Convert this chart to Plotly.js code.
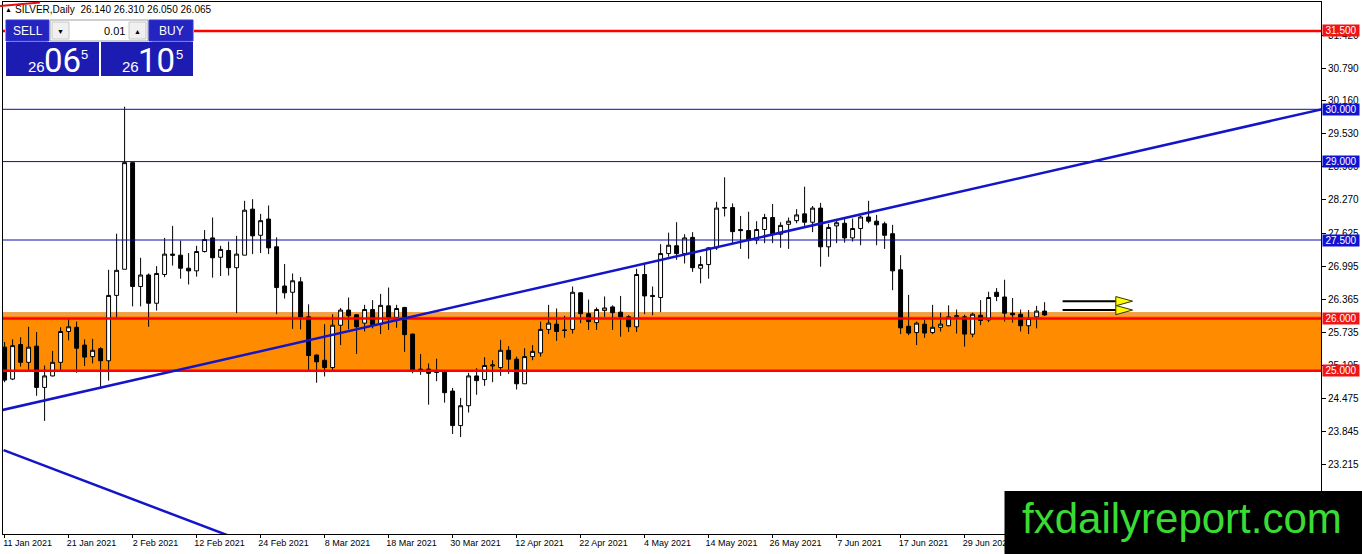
<!DOCTYPE html>
<html>
<head>
<meta charset="utf-8">
<script src="https://cdn.plot.ly/plotly-3.0.1.min.js"></script>
<style>
html,body{margin:0;padding:0;background:#fff;}
#chart{width:1362px;height:554px;}
</style>
</head>
<body>
<div id="chart"></div>
<script>
// ---- data (SILVER, Daily) ----
const openP = [25.45,24.84,25.50,25.16,25.47,24.68,24.90,25.16,25.75,25.83,25.49,25.27,25.42,25.19,26.44,26.94,28.98,26.61,26.83,26.29,
26.84,27.23,27.21,26.96,26.91,27.28,27.54,27.17,27.30,26.97,27.21,28.09,27.59,27.90,27.37,26.62,26.50,26.70,26.03,25.30,
25.20,25.06,25.87,26.16,26.07,25.91,26.17,25.89,26.24,26.02,26.21,25.70,25.03,25.03,24.98,25.00,24.61,23.95,24.33,24.90,
24.83,25.09,25.06,25.39,25.22,24.75,25.27,25.34,25.79,25.89,25.78,25.79,26.49,26.09,25.92,26.15,26.22,26.12,26.03,25.84,
26.84,26.44,26.40,27.24,27.39,27.24,27.55,26.96,27.03,27.35,28.11,28.12,27.70,27.68,27.50,27.70,27.93,27.61,27.80,27.87,
28.00,27.84,28.11,27.37,27.77,27.82,27.54,27.72,27.94,27.86,27.81,27.62,26.93,25.85,25.73,25.89,25.73,25.83,25.86,26.03,
26.03,25.70,26.06,25.97,26.50,26.41,26.10,26.08,25.86,26.03,26.14];
const highP = [25.55,25.60,25.64,25.84,25.74,25.10,25.38,25.83,26.00,25.94,25.60,25.61,25.45,26.93,27.62,30.05,28.98,27.16,26.86,27.00,
27.54,27.77,27.49,27.25,27.39,27.69,27.93,27.39,27.47,27.58,28.25,28.28,28.00,28.16,27.55,27.04,26.86,26.79,26.27,25.31,
25.89,26.08,26.20,26.40,26.08,26.26,26.35,26.47,26.59,26.26,26.22,25.71,25.32,25.14,25.23,25.00,24.67,24.48,24.96,25.05,
25.26,25.20,25.59,25.47,25.27,25.43,25.49,25.94,26.26,26.19,26.05,26.61,26.50,26.36,26.21,26.42,26.25,26.43,26.06,26.95,
27.05,26.61,27.42,27.64,27.84,27.61,27.65,27.19,27.36,28.23,28.70,28.20,27.96,28.04,27.86,28.00,28.19,27.84,27.93,28.09,
28.52,28.15,28.21,27.81,27.90,27.90,27.91,27.96,28.25,27.98,27.85,27.79,27.21,26.45,25.94,25.98,26.26,26.11,26.25,26.17,
26.07,26.11,26.35,26.51,26.58,26.74,26.39,26.17,26.16,26.24,26.31];
const lowP = [24.78,24.82,25.08,25.01,24.52,24.04,24.89,25.01,25.58,24.96,25.09,25.14,24.68,24.81,26.02,26.94,26.23,26.23,25.84,26.15,
26.79,27.01,26.76,26.65,26.80,27.26,26.78,26.81,26.82,26.10,27.21,27.23,27.25,27.23,26.08,26.38,25.80,25.79,25.01,24.77,
24.89,25.00,25.49,25.79,25.32,25.75,25.81,25.70,25.78,25.82,25.36,24.95,24.92,24.35,24.80,24.39,23.79,23.73,24.20,24.54,
24.71,24.78,24.90,24.94,24.64,24.75,25.20,25.27,25.70,25.57,25.63,25.71,25.91,25.78,25.78,26.03,25.78,25.65,25.74,25.74,
26.08,26.06,26.12,27.18,27.12,27.05,26.89,26.67,26.76,27.31,27.95,27.44,27.33,27.14,27.42,27.44,27.44,27.35,27.33,27.82,
27.77,27.65,26.99,27.18,27.44,27.45,27.47,27.40,27.82,27.40,27.33,26.54,25.70,25.68,25.49,25.63,25.70,25.75,25.85,25.71,
25.46,25.64,25.87,25.93,26.33,25.94,25.92,25.75,25.70,25.81,26.05];
const closeP = [24.82,25.48,25.16,25.45,24.68,24.90,25.16,25.75,25.84,25.43,25.26,25.39,25.19,26.44,26.92,28.98,26.61,26.83,26.29,26.86,
27.23,27.21,26.96,26.91,27.28,27.51,27.16,27.32,26.97,27.23,28.07,27.58,27.87,27.35,26.59,26.49,26.72,26.03,25.29,25.17,
25.06,25.87,26.16,26.05,25.84,26.17,25.88,26.25,26.02,26.19,25.69,25.01,25.01,24.95,24.97,24.58,23.95,24.33,24.90,24.81,
25.10,25.11,25.39,25.22,24.75,25.27,25.37,25.79,25.91,25.75,25.77,26.50,26.09,25.94,26.17,26.20,26.11,26.03,25.84,26.84,
26.43,26.42,27.24,27.40,27.24,27.54,26.97,27.03,27.35,28.11,28.12,27.66,27.68,27.50,27.70,27.93,27.61,27.78,27.86,27.98,
27.84,28.11,27.37,27.74,27.83,27.54,27.72,27.94,27.86,27.79,27.59,26.91,25.82,25.72,25.91,25.72,25.83,25.89,26.03,26.05,
25.70,26.08,25.96,26.40,26.42,26.10,26.07,25.86,26.00,26.14,26.065];

const tickIdx = [0,8,16,24,32,40,48,56,64,72,80,88,96,104,112,120];
const tickLabels = ["11 Jan 2021","21 Jan 2021","2 Feb 2021","12 Feb 2021","24 Feb 2021","8 Mar 2021","18 Mar 2021",
  "30 Mar 2021","12 Apr 2021","22 Apr 2021","4 May 2021","14 May 2021","26 May 2021","7 Jun 2021","17 Jun 2021","29 Jun 2021"];

const priceTicks = [23.215,23.845,24.475,25.105,25.735,26.365,26.995,27.625,28.270,28.900,29.530,30.160,30.790,31.420];

const redLevels = [31.5, 26.0, 25.0];
const blueLevels = [30.0, 29.0, 27.5];
const zoneLow = 25.0, zoneHigh = 26.117;

// trendlines (index, price)
const trendUpX = [-0.5, 164.625], trendUpY = [24.24, 30.0];
const trendDownX = [-0.125, 30.5], trendDownY = [23.48, 21.70];

// arrows pointing right
const arrowX = [132.25, 138.9, 141.0];
const arrowY = [26.33, 26.16];

const headerText = "SILVER,Daily  26.140 26.310 26.050 26.065";
const sellBig = "06", buyBig = "10", priceHandle = "26", pipDigit = "5", lotSize = "0.01";
const watermark = "fxdailyreport.com";

// ---- layout helpers ----
const W = 1362, H = 554, ML = 3, MR = 41, MT = 2, MB = 20;
const PW = W - ML - MR, PH = H - MT - MB;
const PX = px => (px - ML) / PW;
const PY = py => (H - MB - py) / PH;
const FONT = "Liberation Sans, Arial, sans-serif";

const idx = openP.map((_, i) => i);

const trace = {
  type: 'candlestick',
  x: idx, open: openP, high: highP, low: lowP, close: closeP,
  increasing: {line: {color: '#000000', width: 1}, fillcolor: '#FFFFFF'},
  decreasing: {line: {color: '#000000', width: 1}, fillcolor: '#000000'},
  whiskerwidth: 0,
  hoverinfo: 'skip',
  showlegend: false
};

const shapes = [];
// zone (background)
shapes.push({type:'rect', layer:'below', xref:'paper', yref:'y', x0:0, x1:1, y0:zoneLow, y1:zoneHigh,
  fillcolor:'#FF8C00', line:{width:0}});
shapes.push({type:'rect', layer:'below', xref:'paper', yref:'y', x0:0, x1:1, y0:26.045, y1:zoneHigh,
  fillcolor:'#EFA04C', line:{width:0}});
// horizontal levels
blueLevels.forEach(v => shapes.push({type:'line', xref:'paper', yref:'y', x0:0, x1:1, y0:v, y1:v,
  line:{color:'#0C0CB0', width:1}}));
redLevels.forEach(v => shapes.push({type:'line', xref:'paper', yref:'y', x0:0, x1:1, y0:v, y1:v,
  line:{color:'#FF0000', width:2.5}}));
// trendlines
shapes.push({type:'line', xref:'x', yref:'y', x0:trendUpX[0], x1:trendUpX[1], y0:trendUpY[0], y1:trendUpY[1],
  line:{color:'#1414C8', width:2.5}});
shapes.push({type:'line', xref:'x', yref:'y', x0:trendDownX[0], x1:trendDownX[1], y0:trendDownY[0], y1:trendDownY[1],
  line:{color:'#1414C8', width:2.5}});
// arrows
const hh = 0.088;
arrowY.forEach(v => {
  shapes.push({type:'line', xref:'x', yref:'y', x0:arrowX[0], x1:arrowX[1], y0:v, y1:v, line:{color:'#000000', width:2}});
  shapes.push({type:'path', xref:'x', yref:'y',
    path:`M ${arrowX[1]} ${v+hh} L ${arrowX[2]} ${v} L ${arrowX[1]} ${v-hh} Z`,
    fillcolor:'#FFFF00', line:{color:'#333300', width:1}});
});
// small red segment at top-left
shapes.push({type:'line', xref:'paper', yref:'paper', x0:PX(0), x1:PX(40), y0:PY(6), y1:PY(2.5),
  line:{color:'#E01010', width:2}});

// one-click trading panel
const blue = '#1C1CB2';
const rectPx = (x0,y0,x1,y1,fill,lineColor,lw) => ({type:'rect', xref:'paper', yref:'paper',
  x0:PX(x0), x1:PX(x1), y0:PY(y1), y1:PY(y0), fillcolor:fill, line:{color:lineColor||fill, width:lw||0}});
shapes.push(rectPx(5,19,194,77,'#FFFFFF'));
shapes.push(rectPx(6,20,49,41,'#2424C0','#3434D0',1));
shapes.push(rectPx(50,20,148,41,'#FFFFFF','#A0A0A0',1));
shapes.push(rectPx(52,22,69,39,'#F0F0F0','#C8C8C8',1));
shapes.push(rectPx(129,22,146,39,'#F0F0F0','#C8C8C8',1));
shapes.push(rectPx(149,20,193,41,'#2424C0','#3434D0',1));
shapes.push(rectPx(6,42,99,76,blue));
shapes.push(rectPx(101,42,193,76,blue));
shapes.push({type:'line', xref:'paper', yref:'paper', x0:PX(9), x1:PX(47), y0:PY(41.5), y1:PY(41.5), line:{color:'#7A7AE6', width:1}});
shapes.push({type:'line', xref:'paper', yref:'paper', x0:PX(152), x1:PX(191), y0:PY(41.5), y1:PY(41.5), line:{color:'#7A7AE6', width:1}});

// watermark box
shapes.push({type:'rect', layer:'above', xref:'paper', yref:'paper', x0:PX(1004.5), x1:PX(1363), y0:PY(555), y1:PY(491),
  fillcolor:'#000000', line:{width:0}});

const annotations = [];
// price level tags
const tag = (v, bg) => ({xref:'paper', yref:'y', x:1, xshift:1, y:v, xanchor:'left', yanchor:'middle',
  text: v.toFixed(3), showarrow:false, bgcolor:bg, borderpad:0, width:36, height:11, align:'center',
  font:{family:FONT, size:10, color:'#FFFFFF'}});
redLevels.forEach(v => annotations.push(tag(v, '#F01414')));
blueLevels.forEach(v => annotations.push(tag(v, '#1212D4')));

const txt = (s, x, y, size, color, anchor, family) => ({xref:'paper', yref:'paper', x:PX(x), y:PY(y),
  xanchor:anchor||'center', yanchor:'middle', text:s, showarrow:false,
  font:{family:family||FONT, size:size, color:color}});
annotations.push(txt('▲', 8.5, 9, 7, '#000000'));
annotations.push(txt(headerText, 13, 9, 10, '#000000', 'left'));
annotations.push(txt('SELL', 27.5, 31, 12, '#FFFFFF'));
annotations.push(txt('BUY', 171, 31, 12, '#FFFFFF'));
annotations.push(txt(lotSize, 127, 31, 11, '#000000', 'right'));
annotations.push(txt('▼', 60.5, 31, 7, '#000000'));
annotations.push(txt('▲', 137.5, 31, 7, '#000000'));
annotations.push(txt(priceHandle, 36.5, 67, 15, '#FFFFFF'));
annotations.push(txt(sellBig, 62.5, 60, 33, '#FFFFFF', 'center', 'Roboto, sans-serif'));
annotations.push(txt(pipDigit, 84, 54.5, 13, '#FFFFFF'));
annotations.push(txt(priceHandle, 130.5, 67, 15, '#FFFFFF'));
annotations.push(txt(buyBig, 156, 60, 33, '#FFFFFF', 'center', 'Roboto, sans-serif'));
annotations.push(txt(pipDigit, 179.5, 54.5, 13, '#FFFFFF'));
// watermark text
annotations.push(txt(watermark, 1182, 518, 42, '#3ADB34'));

const yBottom = 30 - (H - MB - 109.3) / 52.28;
const yTop = 30 - (MT - 109.3) / 52.28;

const layout = {
  width: W, height: H,
  margin: {l:ML, r:MR, t:MT, b:MB, pad:0},
  paper_bgcolor:'#FFFFFF', plot_bgcolor:'#FFFFFF',
  showlegend:false,
  dragmode:false,
  xaxis: {
    range:[-0.2, 164.55], fixedrange:true,
    rangeslider:{visible:false},
    showgrid:false, zeroline:false,
    showline:true, mirror:true, linecolor:'#000000', linewidth:1,
    tickmode:'array', tickvals:tickIdx, ticktext:tickLabels,
    ticks:'outside', ticklen:3, tickcolor:'#000000',
    ticklabelshift:23, ticklabelstandoff:-3,
    tickfont:{family:FONT, size:9, color:'#000000'}
  },
  yaxis: {
    side:'right', range:[yBottom, yTop], fixedrange:true,
    showgrid:false, zeroline:false,
    showline:true, mirror:true, linecolor:'#000000', linewidth:1,
    tickmode:'array', tickvals:priceTicks, ticktext:priceTicks.map(v => v.toFixed(3)),
    ticks:'outside', ticklen:4, tickcolor:'#000000',
    tickfont:{family:FONT, size:10, color:'#000000'}
  },
  shapes: shapes,
  annotations: annotations
};

Plotly.newPlot('chart', [trace], layout, {displayModeBar:false, staticPlot:true});
</script>
</body>
</html>
